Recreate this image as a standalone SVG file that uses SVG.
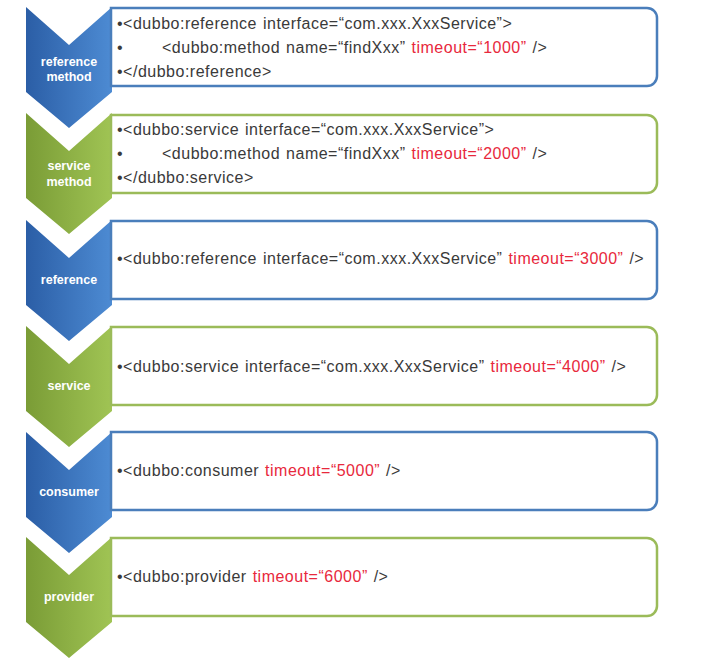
<svg xmlns="http://www.w3.org/2000/svg" width="715" height="661" viewBox="0 0 715 661">
<defs>
<linearGradient id="gb" x1="0" y1="0" x2="1" y2="0">
<stop offset="0" stop-color="#2b5ea6"/>
<stop offset="1" stop-color="#4d8bd3"/>
</linearGradient>
<linearGradient id="gg" x1="0" y1="0" x2="1" y2="0">
<stop offset="0" stop-color="#7a9c36"/>
<stop offset="1" stop-color="#a0c454"/>
</linearGradient>
<path id="chev" d="M0,0 L43,38 L86,0 L86,85 L43,121 L0,85 Z"/>
<path id="box" d="M0,0 H536 A10,10 0 0 1 546,10 V68 A10,10 0 0 1 536,78 H0 Z"/>
</defs>
<style>
.bb{fill:#fff;stroke:#4a7ebb;stroke-width:2.5}
.gb{fill:#fff;stroke:#9bbb59;stroke-width:2.5}
.lab{font-family:"Liberation Sans",Arial,sans-serif;font-size:12.5px;font-weight:bold;fill:#fff;text-anchor:middle}
.t{font-family:"Liberation Sans",Arial,sans-serif;font-size:16px;letter-spacing:0.5px;word-spacing:1px;fill:#3a3a3a}
.r{fill:#e8283c}
</style>
<rect width="715" height="661" fill="#fff"/>
<g id="n1">
<use href="#chev" x="26" y="7" fill="url(#gb)"/>
<use href="#box" x="111" y="8" class="bb"/>
<text class="lab" x="69" y="66">reference</text>
<text class="lab" x="69" y="81">method</text>
<text class="t" x="117" y="29">•&lt;dubbo:reference interface=“com.xxx.XxxService”&gt;</text>
<text class="t" x="117" y="53">•</text>
<text class="t" x="162" y="53">&lt;dubbo:method name=“findXxx” <tspan class="r">timeout=“1000”</tspan> /&gt;</text>
<text class="t" x="117" y="77">•&lt;/dubbo:reference&gt;</text>
</g>
<g id="n2">
<use href="#chev" x="26" y="113" fill="url(#gg)"/>
<use href="#box" x="111" y="115" class="gb"/>
<text class="lab" x="69" y="170">service</text>
<text class="lab" x="69" y="186">method</text>
<text class="t" x="117" y="135">•&lt;dubbo:service interface=“com.xxx.XxxService”&gt;</text>
<text class="t" x="117" y="159">•</text>
<text class="t" x="162" y="159">&lt;dubbo:method name=“findXxx” <tspan class="r">timeout=“2000”</tspan> /&gt;</text>
<text class="t" x="117" y="183">•&lt;/dubbo:service&gt;</text>
</g>
<g id="n3">
<use href="#chev" x="26" y="220" fill="url(#gb)"/>
<use href="#box" x="111" y="221" class="bb"/>
<text class="lab" x="69" y="284">reference</text>
<text class="t" x="117" y="264">•&lt;dubbo:reference interface=“com.xxx.XxxService” <tspan class="r">timeout=“3000”</tspan> /&gt;</text>
</g>
<g id="n4">
<use href="#chev" x="26" y="326" fill="url(#gg)"/>
<use href="#box" x="111" y="327" class="gb"/>
<text class="lab" x="69" y="390">service</text>
<text class="t" x="117" y="372">•&lt;dubbo:service interface=“com.xxx.XxxService” <tspan class="r">timeout=“4000”</tspan> /&gt;</text>
</g>
<g id="n5">
<use href="#chev" x="26" y="432" fill="url(#gb)"/>
<use href="#box" x="111" y="432" class="bb"/>
<text class="lab" x="69" y="496">consumer</text>
<text class="t" x="117" y="476">•&lt;dubbo:consumer <tspan class="r">timeout=“5000”</tspan> /&gt;</text>
</g>
<g id="n6">
<use href="#chev" x="26" y="537" fill="url(#gg)"/>
<use href="#box" x="111" y="538" class="gb"/>
<text class="lab" x="69" y="601">provider</text>
<text class="t" x="117" y="582">•&lt;dubbo:provider <tspan class="r">timeout=“6000”</tspan> /&gt;</text>
</g>
<g id="connectors"/>
</svg>
